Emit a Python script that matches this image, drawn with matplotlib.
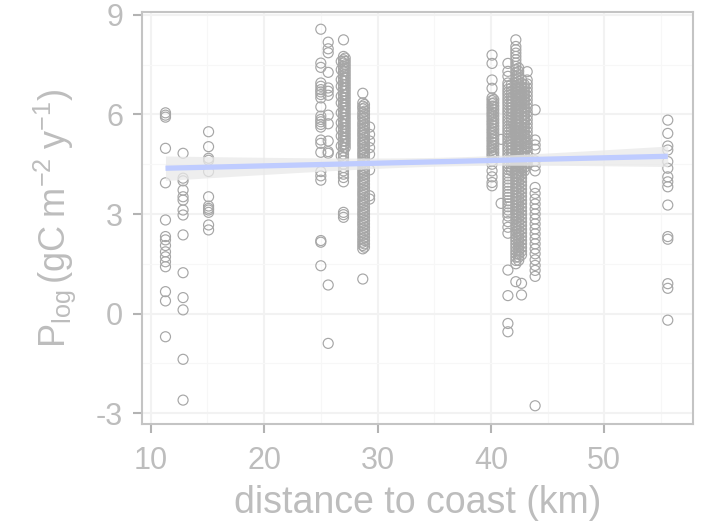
import numpy as np
import matplotlib
matplotlib.use("Agg")
import matplotlib.pyplot as plt

# station distance (km) and the log production values recorded there
km_a = 11.3
plog_a = [6.05, 5.98, 5.92, 4.98, 3.94, 2.82, 2.32, 2.22, 2.05, 1.86, 1.71, 1.56,
          1.41, 0.66, 0.38, -0.70]
km_b = 12.85
plog_b = [4.83, 4.08, 4.0, 3.72, 3.52, 3.42, 3.12, 2.97, 2.37, 1.23, 0.48, 0.11,
          -1.38, -2.61]
km_c = 15.1
plog_c = [5.48, 5.03, 4.68, 4.62, 4.28, 3.52, 3.24, 3.17, 3.12, 3.05, 2.67, 2.52]
km_d = 25.0
plog_d = [8.57, 7.55, 7.42, 6.95, 6.85, 6.75, 6.68, 6.6, 6.5, 6.23, 5.95, 5.85,
          5.78, 5.7, 5.62, 5.23, 5.13, 4.86, 4.28, 4.15, 4.02, 2.2, 2.15, 1.44]
km_e = 25.65
plog_e = [8.18, 7.98, 7.86, 7.27, 6.8, 6.7, 6.58, 5.98, 5.72, 5.2, 4.88, 4.83,
          0.86, -0.9]
km_f = 27.0
plog_f = [8.25, 7.75, 7.65, 7.55, 7.45, 7.38, 7.3, 7.2, 7.1, 7.0, 6.9, 6.8, 6.7,
          6.6, 6.5, 6.4, 6.3, 6.2, 6.1, 6.0, 5.9, 5.8, 5.7, 5.6, 5.5, 5.4, 5.3,
          5.2, 5.1, 5.0, 4.9, 4.8, 4.7, 4.6, 4.5, 4.4, 4.3, 4.2, 4.1, 3.97, 3.05,
          2.98, 2.9]
km_f2 = 26.8
plog_f2 = [7.6, 7.35, 7.05, 6.85, 6.55, 6.35, 6.05, 5.75, 5.55, 5.35, 5.05, 4.75]
km_f3 = 27.15
plog_f3 = [7.7, 7.6, 7.5, 7.4, 7.3, 7.2, 7.1, 7.0, 6.9, 6.8, 6.7, 6.6, 6.5, 6.4,
           6.3, 6.2, 6.1, 6.0, 5.9, 5.8, 5.7, 5.6, 5.5, 5.4, 5.3, 5.2, 5.1, 5.0]
km_g = 28.7
plog_g = [6.64, 6.35, 6.25, 6.17, 6.05, 5.95, 5.87, 5.75, 5.66, 5.55, 5.45, 5.36,
          5.25, 5.15, 5.06, 4.95, 4.85, 4.76, 4.65, 4.55, 4.46, 4.35, 4.25, 4.16,
          4.05, 3.95, 3.86, 3.75, 3.65, 3.56, 3.45, 3.35, 3.26, 3.15, 3.05, 2.96,
          2.85, 2.75, 2.66, 2.55, 2.45, 2.36, 2.25, 2.15, 2.05, 1.95, 1.04]
km_g2 = 28.85
plog_g2 = [6.3, 6.2, 6.1, 6.0, 5.9, 5.8, 5.7, 5.6, 5.5, 5.4, 5.3, 5.2, 5.1, 5.0,
           4.9, 4.8, 4.7, 4.6, 4.5, 4.4, 4.3, 4.2, 4.1, 4.0, 3.9, 3.8, 3.7, 3.6,
           3.5, 3.4, 3.3, 3.2, 3.1, 3.0, 2.9, 2.8, 2.7, 2.6, 2.5, 2.4, 2.3, 2.2,
           2.1, 2.0]
km_h = 29.3
plog_h = [5.62, 5.4, 5.2, 5.0, 4.8, 4.33, 3.55, 3.45]
km_i = 40.1
plog_i = [7.79, 7.54, 7.04, 6.79, 6.5, 6.42, 6.33, 6.25, 6.17, 6.08, 6.0, 5.92,
          5.83, 5.75, 5.67, 5.58, 5.5, 5.42, 5.33, 5.25, 5.17, 5.08, 5.0, 4.92,
          4.83, 4.75, 4.6, 4.5, 4.3, 4.12, 3.95, 3.85]
km_i2 = 40.25
plog_i2 = [6.45, 6.35, 6.25, 6.15, 6.05, 5.95, 5.85, 5.75, 5.65, 5.55, 5.45,
           5.35, 5.25, 5.15, 5.05, 4.95, 4.85, 4.75]
km_j = 40.9
plog_j = [5.25, 3.32]
km_k = 41.5
plog_k = [7.54, 7.3, 7.15, 6.95, 6.86, 6.76, 6.67, 6.58, 6.48, 6.39, 6.3, 6.2,
          6.11, 6.02, 5.92, 5.83, 5.74, 5.64, 5.55, 5.46, 5.36, 5.27, 5.18, 5.08,
          4.99, 4.9, 4.8, 4.71, 4.62, 4.52, 4.43, 4.34, 4.24, 4.15, 4.06, 3.96,
          3.87, 3.78, 3.68, 3.59, 3.5, 3.4, 3.31, 3.22, 3.12, 3.03, 2.94, 2.77,
          2.6, 2.42, 1.31, 0.54, -0.3, -0.55]
km_k2 = 41.8
plog_k2 = [6.9, 6.8, 6.7, 6.6, 6.5, 6.4, 6.3, 6.2, 6.1, 6.0, 5.9, 5.8, 5.7, 5.6,
           5.5, 5.4, 5.3, 5.2, 5.1, 5.0, 4.9, 4.8, 4.7, 4.6, 4.5, 4.4, 4.3]
km_l = 42.2
plog_l = [8.25, 8.05, 7.95, 7.85, 7.75, 7.65, 7.55, 7.45, 7.35, 7.26, 7.16, 7.06,
          6.96, 6.87, 6.77, 6.67, 6.57, 6.48, 6.38, 6.28, 6.18, 6.09, 5.99, 5.89,
          5.79, 5.7, 5.6, 5.5, 5.4, 5.31, 5.21, 5.11, 5.01, 4.92, 4.82, 4.72,
          4.62, 4.53, 4.43, 4.33, 4.23, 4.14, 4.04, 3.94, 3.84, 3.75, 3.65, 3.55,
          3.45, 3.36, 3.26, 3.16, 3.06, 2.97, 2.87, 2.77, 2.67, 2.58, 2.48, 2.38,
          2.28, 2.19, 2.09, 1.99, 1.89, 1.8, 1.7, 1.6, 1.5, 0.96]
km_l2 = 42.45
plog_l2 = [7.4, 7.3, 7.2, 7.1, 7.0, 6.9, 6.8, 6.7, 6.6, 6.5, 6.4, 6.3, 6.2, 6.1,
           6.0, 5.9, 5.8, 5.7, 5.6, 5.5, 5.4, 5.3, 5.2, 5.1, 5.0, 4.9, 4.8, 4.7,
           4.6, 4.5, 4.4, 4.3, 4.2, 4.1, 4.0, 3.9, 3.8, 3.7, 3.6, 3.5, 3.4, 3.3,
           3.2, 3.1, 3.0, 2.9, 2.8, 2.7, 2.6, 2.5, 2.4, 2.3, 2.2, 2.1, 2.0, 1.9,
           1.8, 1.7, 1.6]
km_m = 42.7
plog_m = [7.05, 6.94, 6.83, 6.72, 6.61, 6.5, 6.39, 6.28, 6.17, 6.06, 5.95, 5.84,
          5.73, 5.62, 5.51, 5.4, 5.29, 5.18, 5.07, 4.96, 4.85, 4.74, 4.63, 4.52,
          4.41, 4.3, 4.19, 4.08, 3.97, 3.86, 3.75, 3.64, 3.53, 3.42, 3.31, 3.2,
          3.09, 2.98, 2.87, 2.76, 2.65, 2.54, 2.43, 2.32, 2.21, 2.1, 1.99, 1.88,
          1.77, 0.91, 0.56]
km_n = 43.2
plog_n = [7.29, 7.04, 6.92, 6.8, 6.68, 6.56, 6.44, 6.32, 6.2, 6.08, 5.96, 5.84,
          5.72, 5.6, 5.48, 5.36, 5.24, 5.12, 5.0, 4.88, 4.76, 4.64, 4.52]
km_n2 = 42.95
plog_n2 = [6.9, 6.8, 6.7, 6.6, 6.5, 6.4, 6.3, 6.2, 6.1, 6.0, 5.9, 5.8, 5.7, 5.6,
           5.5, 5.4, 5.3, 5.2, 5.1, 5.0, 4.9, 4.8, 4.7, 4.6, 4.5, 4.4, 4.3]
km_o = 43.9
plog_o = [6.14, 5.23, 5.08, 4.95, 4.6, 4.45, 4.3, 3.8, 3.62, 3.45, 3.3, 3.15, 3.0,
          2.85, 2.7, 2.55, 2.4, 2.25, 2.1, 1.95, 1.8, 1.62, 1.45, 1.3, 1.12, -2.78]
km_p = 55.6
plog_p = [5.83, 5.43, 5.05, 4.93, 4.58, 4.38, 4.12, 3.97, 3.82, 3.27, 2.32, 2.24,
          0.9, 0.76, -0.2]

stations = [(km_a, plog_a), (km_b, plog_b), (km_c, plog_c), (km_d, plog_d),
            (km_e, plog_e), (km_f, plog_f), (km_f2, plog_f2), (km_f3, plog_f3),
            (km_g, plog_g), (km_g2, plog_g2), (km_h, plog_h), (km_i, plog_i),
            (km_i2, plog_i2), (km_j, plog_j), (km_k, plog_k), (km_k2, plog_k2),
            (km_l, plog_l), (km_l2, plog_l2), (km_m, plog_m), (km_n, plog_n),
            (km_n2, plog_n2), (km_o, plog_o), (km_p, plog_p)]

# fitted trend at the two ends of the distance range
fit_km = [11.3, 55.6]
fit_plog = [4.38, 4.74]

x = np.concatenate([np.full(len(v), k) for k, v in stations])
y = np.concatenate([np.asarray(v, float) for k, v in stations])

grey_txt = "#BDBDBD"
plt.rcParams["font.family"] = ["Liberation Sans", "DejaVu Sans"]
plt.rcParams["axes.unicode_minus"] = False
plt.rcParams["mathtext.fontset"] = "custom"
plt.rcParams["mathtext.rm"] = "Liberation Sans"
plt.rcParams["mathtext.it"] = "Liberation Sans"

fig = plt.figure(figsize=(7.02, 5.23), dpi=100)
ax = fig.add_axes([0.2023, 0.1893, 0.7845, 0.7878])

# confidence band around the trend line
slope = (fit_plog[1] - fit_plog[0]) / (fit_km[1] - fit_km[0])
xs = np.linspace(fit_km[0], fit_km[1], 100)
ys = fit_plog[0] + slope * (xs - fit_km[0])
resid = y - (fit_plog[0] + slope * (x - fit_km[0]))
s = np.sqrt(np.sum(resid ** 2) / (len(x) - 2))
sxx = np.sum((x - x.mean()) ** 2)
se = s * np.sqrt(1 / len(x) + (xs - x.mean()) ** 2 / sxx)

ax.scatter(x, y, s=52, facecolors="none", edgecolors="#A6A6A6", linewidths=0.85,
           zorder=2)
ax.fill_between(xs, ys - 1.9 * se, ys + 1.9 * se, color="#E9E9E9", alpha=0.75,
                lw=0, zorder=3)
ax.plot(xs, ys, color="#BFCCFF", lw=3.8, solid_capstyle="butt", zorder=4)

ax.set_xlim(9.23, 57.8)
ax.set_ylim(-3.33, 9.09)
ax.set_xticks([10, 20, 30, 40, 50])
ax.set_yticks([-3, 0, 3, 6, 9])
ax.set_xticks([15, 25, 35, 45, 55], minor=True)
ax.set_yticks([-1.5, 1.5, 4.5, 7.5], minor=True)
ax.grid(which="major", color="#F2F2F2", lw=1.5, zorder=0)
ax.grid(which="minor", color="#F7F7F7", lw=0.8, zorder=0)
ax.set_axisbelow(True)
ax.tick_params(which="major", length=6.5, width=1.5, color="#B3B3B3",
               labelsize=22, labelcolor=grey_txt)
ax.tick_params(axis="x", which="major", pad=9)
ax.tick_params(axis="y", which="major", pad=7)
ax.tick_params(which="minor", length=0)
for sp in ax.spines.values():
    sp.set_color("#C4C4C4")
    sp.set_linewidth(1.5)

ax.set_xlabel("distance to coast (km)", fontsize=27, color=grey_txt, labelpad=7)
ax.set_ylabel(r"$\mathrm{P_{log}\,(gC\;m^{-2}\;y^{-1})}$", fontsize=26,
              color=grey_txt, labelpad=13)

fig.savefig("out.png", dpi=100)
